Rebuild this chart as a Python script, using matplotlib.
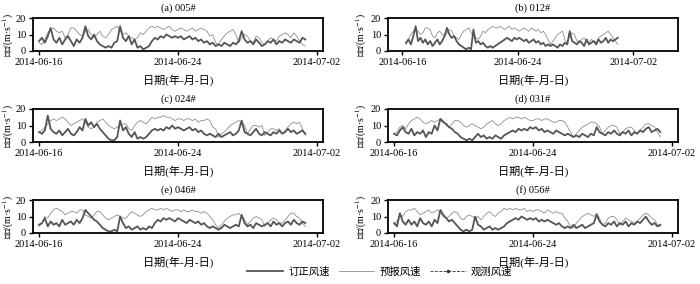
import numpy as np
import pandas as pd
import matplotlib
matplotlib.use('Agg')
import matplotlib.pyplot as plt
import matplotlib.dates as mdates
from matplotlib.lines import Line2D

plt.rcParams['font.family'] = ['Liberation Serif', 'Noto Sans CJK SC']
plt.rcParams['mathtext.fontset'] = 'stix'

# 4-hourly values
titles = ['(a) 005#', '(b) 012#', '(c) 024#', '(d) 031#', '(e) 046#', '(f) 056#']
starts = ['2014-06-16 00:00', '2014-06-16 06:00', '2014-06-16 00:00',
          '2014-06-16 00:00', '2014-06-16 00:00', '2014-06-16 00:00']

corr_a = [6, 8, 5, 9, 14, 7, 5, 8, 4, 7, 9, 6, 3, 7, 5, 8, 15, 9,
          7, 10, 6, 4, 3, 2, 3, 2, 5, 6, 15, 8, 6, 9, 4, 7, 2, 3,
          1, 2, 3, 6, 8, 7, 9, 8, 10, 9, 8, 9, 8, 9, 7, 8, 9, 7,
          8, 6, 7, 5, 6, 4, 5, 3, 4, 3, 5, 4, 3, 5, 4, 6, 12, 7,
          5, 6, 4, 7, 5, 3, 4, 6, 5, 7, 4, 6, 5, 7, 6, 5, 7, 6,
          5, 8, 7]
fcst_a = [5, 4, 7, 11, 13, 14, 12, 11, 12, 8, 10, 14, 14, 12, 10, 9, 12, 13,
          10, 8, 10, 12, 9, 8, 10, 13, 14, 15, 12, 10, 11, 9, 8, 7, 8, 11,
          10, 12, 14, 15, 14, 15, 14, 13, 14, 15, 13, 12, 13, 14, 13, 12, 13, 14,
          12, 13, 14, 13, 12, 9, 10, 5, 4, 7, 9, 11, 12, 13, 10, 5, 8, 10,
          9, 6, 5, 9, 8, 5, 4, 6, 8, 7, 6, 9, 10, 11, 10, 8, 11, 9,
          6, 4, 3]

corr_b = [5, 7, 4, 9, 15, 6, 8, 5, 7, 4, 6, 3, 5, 7, 4, 6, 9, 14,
          10, 8, 9, 6, 4, 3, 2, 1, 2, 1, 13, 5, 6, 4, 5, 3, 2, 3,
          2, 3, 4, 5, 6, 7, 8, 7, 6, 8, 7, 8, 7, 6, 7, 5, 6, 7,
          5, 6, 4, 5, 3, 4, 3, 4, 3, 2, 4, 3, 5, 4, 12, 6, 5, 4,
          6, 5, 3, 7, 4, 5, 6, 4, 7, 5, 6, 8, 5, 7, 6, 7, 8]
fcst_b = [4, 7, 10, 12, 13, 12, 10, 11, 14, 14, 13, 9, 8, 11, 12, 10, 9, 11,
          13, 12, 9, 8, 7, 10, 12, 13, 14, 11, 9, 8, 7, 9, 12, 11, 13, 14,
          15, 14, 14, 15, 14, 13, 14, 15, 13, 14, 13, 12, 13, 14, 13, 12, 14, 13,
          12, 13, 11, 12, 10, 7, 4, 6, 8, 10, 11, 12, 7, 5, 9, 11, 10, 6,
          5, 7, 8, 6, 5, 7, 6, 5, 8, 9, 10, 11, 12, 10, 8, 6, 4]

corr_c = [6, 5, 7, 16, 8, 6, 5, 7, 4, 6, 8, 5, 4, 6, 9, 7, 14, 10,
          12, 9, 11, 8, 6, 4, 2, 1, 1, 3, 13, 7, 9, 5, 3, 6, 2, 3,
          2, 3, 5, 7, 8, 7, 8, 7, 9, 8, 10, 8, 9, 8, 7, 8, 9, 7,
          8, 6, 7, 5, 4, 5, 4, 3, 5, 3, 4, 5, 6, 4, 5, 7, 13, 6,
          5, 4, 6, 8, 5, 4, 6, 5, 4, 6, 5, 7, 5, 6, 8, 6, 7, 5,
          6, 7, 5]
fcst_c = [6, 7, 9, 11, 13, 14, 13, 14, 15, 14, 12, 10, 11, 12, 13, 14, 12, 9,
          8, 9, 12, 13, 14, 12, 10, 9, 8, 9, 10, 11, 11, 8, 7, 10, 12, 13,
          12, 11, 13, 15, 14, 15, 15, 16, 15, 15, 14, 13, 14, 14, 13, 14, 14, 13,
          14, 12, 13, 13, 14, 13, 9, 8, 3, 5, 6, 8, 10, 11, 12, 13, 12, 10,
          5, 8, 10, 10, 9, 10, 4, 6, 8, 8, 7, 8, 5, 7, 9, 11, 12, 11,
          12, 8, 4]

corr_d = [5, 4, 7, 9, 6, 5, 8, 4, 6, 5, 7, 3, 6, 5, 10, 7, 14, 12,
          11, 9, 8, 6, 5, 3, 2, 1, 2, 1, 3, 5, 3, 4, 2, 3, 2, 4,
          3, 2, 4, 5, 6, 7, 6, 8, 7, 8, 7, 9, 8, 9, 7, 8, 6, 7,
          6, 5, 7, 6, 5, 4, 5, 4, 3, 4, 3, 5, 4, 3, 5, 4, 9, 6,
          5, 4, 6, 5, 7, 5, 4, 6, 5, 7, 4, 6, 5, 7, 6, 8, 9, 6,
          7, 8, 6]
fcst_d = [5, 6, 9, 10, 8, 11, 13, 14, 15, 14, 12, 11, 12, 13, 12, 13, 14, 13,
          10, 9, 11, 13, 13, 12, 10, 9, 10, 11, 10, 9, 8, 9, 11, 12, 13, 11,
          10, 11, 13, 14, 15, 14, 15, 15, 14, 15, 14, 13, 13, 14, 14, 13, 14, 14,
          13, 12, 12, 13, 13, 12, 9, 6, 3, 5, 7, 9, 10, 11, 12, 12, 11, 9,
          5, 7, 9, 10, 10, 9, 5, 6, 8, 9, 9, 7, 5, 7, 9, 11, 11, 10,
          9, 6, 3]

corr_e = [5, 6, 9, 4, 7, 5, 6, 4, 8, 5, 6, 7, 5, 8, 6, 9, 14, 12,
          10, 8, 7, 5, 3, 2, 1, 1, 2, 1, 10, 6, 3, 4, 2, 3, 4, 2,
          3, 2, 4, 3, 6, 8, 7, 9, 8, 9, 8, 7, 9, 8, 7, 6, 8, 7,
          6, 7, 5, 6, 4, 3, 4, 3, 2, 3, 5, 4, 3, 4, 5, 4, 11, 6,
          4, 5, 3, 6, 5, 4, 5, 6, 4, 7, 5, 6, 4, 6, 7, 5, 8, 6,
          5, 7, 6]
fcst_e = [4, 6, 10, 9, 12, 14, 15, 14, 13, 11, 12, 13, 13, 12, 14, 14, 11, 10,
          9, 11, 13, 13, 11, 9, 8, 9, 10, 11, 10, 9, 9, 11, 13, 12, 11, 10,
          11, 13, 14, 15, 14, 14, 15, 14, 15, 14, 13, 14, 14, 13, 14, 13, 13, 14,
          13, 13, 12, 13, 12, 10, 8, 5, 3, 5, 7, 9, 10, 11, 11, 12, 10, 8,
          5, 7, 9, 10, 9, 8, 4, 6, 8, 9, 8, 6, 6, 8, 10, 12, 12, 10,
          9, 6, 4]

corr_f = [6, 4, 12, 7, 5, 8, 5, 7, 4, 9, 6, 5, 7, 4, 8, 6, 14, 11,
          9, 7, 8, 6, 4, 2, 1, 2, 1, 2, 10, 5, 4, 2, 3, 4, 2, 3,
          2, 3, 4, 6, 7, 8, 9, 8, 10, 9, 8, 9, 8, 9, 7, 8, 7, 8,
          7, 6, 5, 6, 4, 3, 4, 3, 5, 3, 4, 5, 3, 4, 5, 6, 11, 7,
          5, 4, 6, 5, 7, 4, 6, 5, 7, 4, 6, 5, 7, 6, 8, 10, 7, 5,
          6, 4, 5]
fcst_f = [5, 7, 11, 10, 13, 14, 14, 15, 13, 11, 12, 13, 14, 12, 13, 14, 12, 10,
          9, 10, 12, 13, 12, 9, 8, 10, 11, 10, 9, 10, 8, 10, 12, 13, 11, 10,
          12, 13, 15, 14, 15, 14, 15, 14, 14, 15, 13, 14, 13, 14, 14, 13, 12, 14,
          13, 12, 13, 12, 12, 9, 7, 4, 3, 6, 8, 10, 11, 12, 11, 10, 12, 9,
          5, 6, 9, 10, 10, 8, 5, 7, 9, 8, 7, 6, 7, 9, 11, 12, 11, 9,
          8, 5, 4]

corrected = [corr_a, corr_b, corr_c, corr_d, corr_e, corr_f]
forecast = [fcst_a, fcst_b, fcst_c, fcst_d, fcst_e, fcst_f]

W, H = 700, 284
fig = plt.figure(figsize=(W / 100, H / 100), dpi=100)

lefts = [33, 388]
tops = [18, 109, 200]
aw, ah = 290, 33

pad = pd.Timedelta(hours=8.4)
xlim_std = (pd.Timestamp('2014-06-16') - pad, pd.Timestamp('2014-07-02') + pad)
xlim_b = (pd.Timestamp('2014-06-15'), pd.Timestamp('2014-07-05 02:00'))
ticks = pd.to_datetime(['2014-06-16', '2014-06-24', '2014-07-02'])

for k in range(6):
    row, col = k // 2, k % 2
    x0 = lefts[col] / W
    y0 = 1 - (tops[row] + ah) / H
    ax = fig.add_axes([x0, y0, aw / W, ah / H])
    t = pd.date_range(starts[k], periods=len(corrected[k]), freq='4h')
    ax.plot(t, forecast[k], color='#8e8e8e', lw=0.6)
    ax.plot(t, corrected[k], color='#555555', lw=1.3)
    ax.set_ylim(0, 20)
    ax.set_yticks([0, 10, 20])
    ax.set_xlim(xlim_b if k == 1 else xlim_std)
    ax.set_xticks(ticks)
    ax.xaxis.set_major_formatter(mdates.DateFormatter('%Y-%m-%d'))
    ax.tick_params(direction='out', length=3, width=1, labelsize=7.5, pad=2)
    for s in ax.spines.values():
        s.set_linewidth(1.3)
    ax.set_title(titles[k], fontsize=7.5, pad=5)
    ax.set_xlabel('日期(年-月-日)', fontsize=8, labelpad=5)
    ax.set_ylabel('风速/(m·s$^{-1}$)', fontsize=7, va='center')
    ax.yaxis.set_label_coords(-0.083 if col == 0 else -0.093, 0.5)

handles = [Line2D([], [], color='#555555', lw=1.3),
           Line2D([], [], color='#8e8e8e', lw=0.6),
           Line2D([], [], color='#333333', lw=0.6, ls='--', marker='.', ms=3)]
fig.legend(handles, ['订正风速', '预报风速', '观测风速'], loc='center',
           bbox_to_anchor=(380 / W, 1 - 272 / H), ncol=3, frameon=False,
           fontsize=7.5, handlelength=3.4, columnspacing=0.9, handletextpad=0.5)

fig.savefig('out.png', dpi=100)
